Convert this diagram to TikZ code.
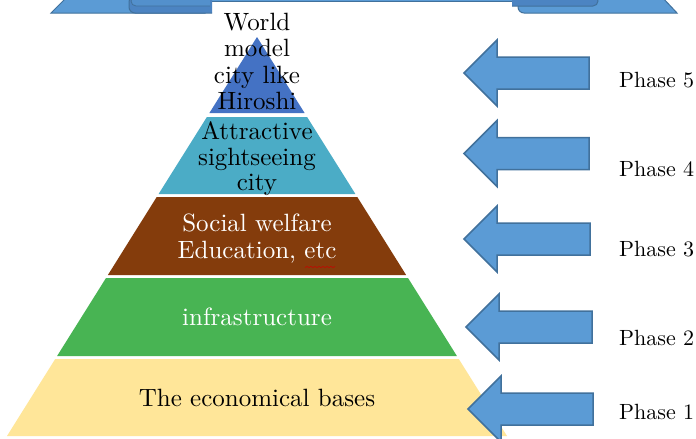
\documentclass[tikz,border=0pt]{standalone}
\usepackage{fontspec}
\setmainfont{lmroman10-regular.otf}
\definecolor{layA}{HTML}{4472C4}
\definecolor{layB}{HTML}{4BACC6}
\definecolor{layC}{HTML}{843C0C}
\definecolor{layD}{HTML}{48B453}
\definecolor{layE}{HTML}{FFE699}
\definecolor{arrfill}{HTML}{5B9BD5}
\definecolor{arrline}{HTML}{41719C}
\definecolor{folddark}{HTML}{4C84C2}
\definecolor{foldtop}{HTML}{5390CC}
\tikzset{
  ptext/.style={anchor=base, inner sep=0pt, font=\fontsize{25}{30}\selectfont},
  phtext/.style={anchor=base west, inner sep=0pt, font=\fontsize{22}{26}\selectfont},
  blockarr/.style={fill=arrfill, draw=arrline, line width=1.5pt, line join=miter},
  ribbon/.style={fill=arrfill, draw=arrline, line width=1pt},
  fold/.style={fill=folddark, draw=arrline, line width=1pt},
  foldtopst/.style={fill=foldtop, draw=arrline, line width=0.8pt},
}
\newcommand\phasearrow[3]{%
  \draw[blockarr] (#1,#2) -- (#1+33,#2-33) -- (#1+33,#2-16) -- (#3,#2-16)
    -- (#3,#2+16) -- (#1+33,#2+16) -- (#1+33,#2+33) -- cycle;}
\begin{document}
\begin{tikzpicture}[x=1pt,y=-1pt]
\useasboundingbox (0,0) rectangle (696,439);
\clip (0,0) rectangle (696,439);
\fill[white] (0,0) rectangle (696,439);

% ribbon banner (cut off at top)
\draw[ribbon] (205,-8) rectangle (522,1.5);
\draw[ribbon] (67,-3) -- (51,13) -- (205,13) -- (205,-3) -- cycle;
\draw[fold, rounded corners=6] (212,-4) -- (129,-4) -- (129,13) -- (212,13);
\draw[foldtopst, rounded corners=5] (210,-4) -- (131,-4) -- (131,6) -- (210,6);
\draw[ribbon] (598,-3) -- (518,-3) [rounded corners=6]-- (518,13) [sharp corners]-- (677,13) -- (662,-3) -- cycle;
\draw[fold, rounded corners=5] (512,-4) -- (598,-4) -- (598,6) -- (512,6);

% pyramid layers
\fill[layA] (257,37) -- (304.6,113) -- (209.4,113) -- cycle;
\fill[layB] (206.9,117) -- (307.1,117) -- (355.4,194) -- (158.6,194) -- cycle;
\fill[layC] (156.7,197) -- (357.3,197) -- (406.1,275) -- (107.9,275) -- cycle;
\fill[layD] (106.0,278) -- (408.0,278) -- (456.9,356) -- (57.1,356) -- cycle;
\fill[layE] (55.2,359) -- (458.8,359) -- (507,436) -- (7,436) -- cycle;

% pyramid texts
\node[ptext] (w1) at (257,30.5) {World};
\node[ptext] (w2) at (257,56.8) {model};
\node[ptext] (w3) at (257,83) {city like};
\node[ptext] (w4) at (257,109.3) {Hiroshi};
\node[ptext] (a1) at (257,139.5) {Attractive};
\node[ptext] (a2) at (257,165) {sightseeing};
\node[ptext] (a3) at (257,190.5) {city};
\node[ptext, text=white] (s1) at (257,231.5) {Social welfare};
\node[ptext, text=white] (s2) at (257,258.3) {Education, etc};
\draw[red!80!black, line width=0.6pt] (305,267.5) -- (307,266.5) -- (309,267.5) -- (311,266.5) -- (313,267.5) -- (315,266.5) -- (317,267.5) -- (319,266.5) -- (321,267.5) -- (323,266.5) -- (325,267.5) -- (327,266.5) -- (329,267.5) -- (331,266.5) -- (333,267.5) -- (335,266.5);
\node[ptext, text=white] (inf) at (257,325.5) {infrastructure};
\node[ptext] (eco) at (257,406.7) {The economical bases};

% arrows
\phasearrow{464}{73}{589}
\phasearrow{464}{153.5}{589}
\phasearrow{464}{239}{590}
\phasearrow{466}{327}{592}
\phasearrow{468}{409}{593}

% phase labels
\node[phtext] (ph5) at (619,87.3) {Phase 5};
\node[phtext] (ph4) at (619,176.7) {Phase 4};
\node[phtext] (ph3) at (619,256.7) {Phase 3};
\node[phtext] (ph2) at (619,345) {Phase 2};
\node[phtext] (ph1) at (619,419.3) {Phase 1};
\end{tikzpicture}
\end{document}
